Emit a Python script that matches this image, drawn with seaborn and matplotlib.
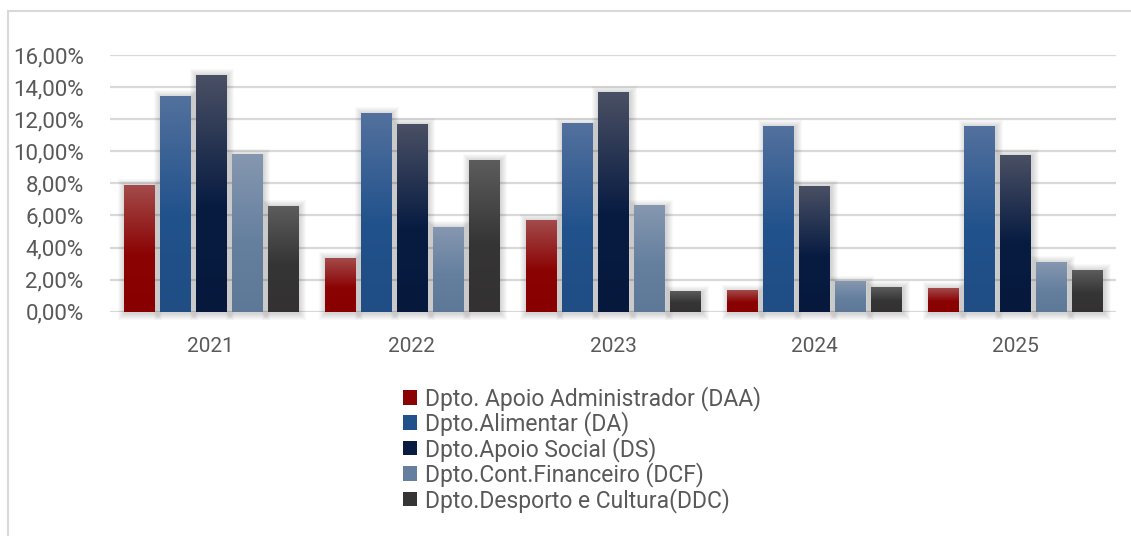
import numpy as np
import pandas as pd
import seaborn as sns
import matplotlib.pyplot as plt
from matplotlib.colors import to_rgb
from matplotlib.patches import Rectangle
from matplotlib.lines import Line2D
from matplotlib.ticker import FuncFormatter, MultipleLocator

# Percentages per department and year
anos = ["2021", "2022", "2023", "2024", "2025"]
departamentos = [
    "Dpto. Apoio Administrador (DAA)",
    "Dpto.Alimentar (DA)",
    "Dpto.Apoio Social (DS)",
    "Dpto.Cont.Financeiro (DCF)",
    "Dpto.Desporto e Cultura(DDC)",
]
daa = [7.90, 3.35, 5.72, 1.35, 1.48]
da = [13.45, 12.39, 11.76, 11.58, 11.58]
ds = [14.76, 11.70, 13.70, 7.84, 9.77]
dcf = [9.82, 5.28, 6.65, 1.91, 3.10]
ddc = [6.59, 9.46, 1.29, 1.54, 2.60]

# Gradient colours per department: (top, middle, bottom)
cores_base = ["#8b0303", "#22528c", "#081c42", "#65809f", "#363535"]
cores_topo = ["#a34b4b", "#53719e", "#4a5064", "#8697b0", "#5c5c5c"]
cores_fundo = ["#880000", "#1f4d84", "#06183c", "#5e7898", "#333131"]

series = [daa, da, ds, dcf, ddc]
df = pd.DataFrame({
    "Ano": anos * len(departamentos),
    "Departamento": np.repeat(departamentos, len(anos)),
    "Valor": np.concatenate(series),
})

sns.set_theme(style="white")
plt.rcParams["font.family"] = ["Roboto", "DejaVu Sans"]

W, H = 1131, 536
fig = plt.figure(figsize=(W / 100, H / 100), dpi=100)
ax_left, ax_right, ax_bottom, ax_top = 110, 1116, 311.7, 55
ax = fig.add_axes([ax_left / W, 1 - ax_bottom / H,
                   (ax_right - ax_left) / W, (ax_bottom - ax_top) / H])

sns.barplot(data=df, x="Ano", y="Valor", hue="Departamento",
            hue_order=departamentos, palette=cores_base, width=0.895,
            gap=0.167, errorbar=None, legend=False, ax=ax)

ymax = 16
px_x = len(anos) / (ax_right - ax_left)   # data units per pixel (x)
px_y = ymax / (ax_bottom - ax_top)         # data units per pixel (y)


def gradiente(topo, meio, fundo, n=256):
    t = np.linspace(0, 1, n)[:, None]
    a, b, c = (np.array(to_rgb(k)) for k in (topo, meio, fundo))
    top_half = a + (b - a) * np.clip(t / 0.55, 0, 1)
    bottom = b + (c - b) * np.clip((t - 0.55) / 0.45, 0, 1)
    img = np.where(t < 0.55, top_half, bottom)
    return img[:, None, :]


barras = list(ax.patches)
for i, p in enumerate(barras):
    k = i // len(anos)
    x, w, h = p.get_x(), p.get_width(), p.get_height()
    p.set_visible(False)
    # soft drop shadow
    for e in range(1, 8):
        sh = Rectangle((x - e * px_x + 1.5 * px_x, -e * px_y - 1.5 * px_y),
                       w + 2 * e * px_x, h + 2 * e * px_y,
                       facecolor="black", alpha=0.022, lw=0, zorder=2,
                       clip_on=False)
        ax.add_patch(sh)
    ax.imshow(gradiente(cores_topo[k], cores_base[k], cores_fundo[k]),
              extent=[x, x + w, 0, h], aspect="auto", origin="upper",
              interpolation="bilinear", zorder=3)

ax.set_xlim(-0.5, len(anos) - 0.5)
ax.set_ylim(0, ymax)
ax.yaxis.set_major_locator(MultipleLocator(2))
ax.yaxis.set_major_formatter(
    FuncFormatter(lambda v, _: f"{v:.2f}%".replace(".", ",")))
ax.yaxis.grid(True, color="#d9d9d9", lw=1.6)
ax.set_axisbelow(True)
for s in ax.spines.values():
    s.set_visible(False)
ax.set_xlabel("")
ax.set_ylabel("")
ax.tick_params(axis="y", length=0, pad=19, labelsize=16, labelcolor="#595959")
ax.tick_params(axis="x", length=0, pad=18, labelsize=15, labelcolor="#595959")

handles = [Rectangle((0, 0), 1, 1, facecolor=c, lw=0) for c in cores_base]
fig.legend(handles, departamentos, loc="upper left",
           bbox_to_anchor=(403 / W, 1 - 386 / H), frameon=False,
           fontsize=16.5, handlelength=0.6, handleheight=0.6,
           handletextpad=0.35, labelspacing=0.02, borderpad=0,
           borderaxespad=0, labelcolor="#595959")

# outer frame lines
fig.add_artist(Line2D([8 / W, 8 / W], [0, 1 - 10.5 / H],
                      color="#d9d9d9", lw=1.5))
fig.add_artist(Line2D([8 / W, 1], [1 - 10.5 / H, 1 - 10.5 / H],
                      color="#d9d9d9", lw=1.5))

fig.savefig("out.png", dpi=100)
